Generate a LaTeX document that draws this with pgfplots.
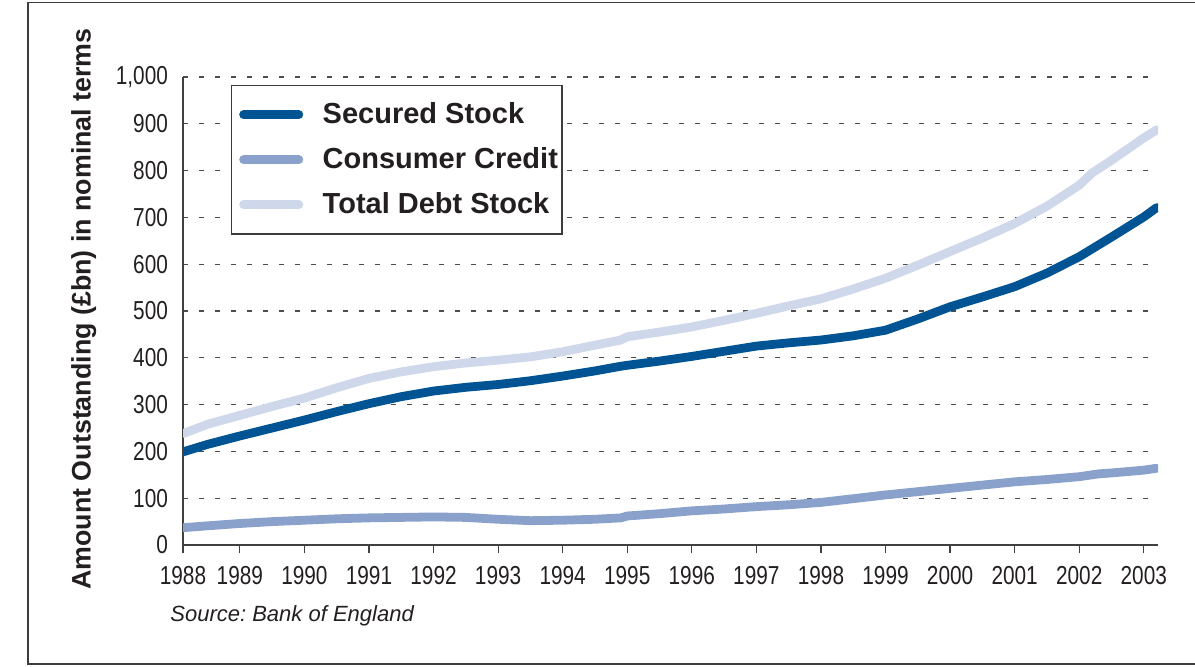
\documentclass[border=0pt]{standalone}
\usepackage{fontspec}
\setmainfont{Liberation Sans}
\newfontfamily\condfont[FakeStretch=0.8]{Liberation Sans}
\usepackage{pgfplots}
\pgfplotsset{compat=1.18}
\definecolor{secured}{RGB}{0,84,147}
\definecolor{consumer}{RGB}{138,162,203}
\definecolor{totaldebt}{RGB}{207,216,234}
\definecolor{framegray}{RGB}{60,60,60}
\definecolor{txt}{RGB}{35,31,32}

\begin{document}
\frenchspacing
\begin{tikzpicture}
\useasboundingbox (0pt,0pt) rectangle (597.5pt,-333pt);
\draw[framegray, line width=0.75pt] (14pt,-1.2pt) rectangle (610pt,-332pt);
\begin{axis}[
  at={(91.5pt,-272.5pt)}, anchor=south west,
  scale only axis, width=487.5pt, height=234pt,
  xmin=1988.12, xmax=2003.22, ymin=0, ymax=1000,
  axis lines*=left,
  axis line style={black!75, line width=0.75pt},
  xtick={1988.12,1989,1990,1991,1992,1993,1994,1995,1996,1997,1998,1999,2000,2001,2002,2003},
  xticklabels={1988,1989,1990,1991,1992,1993,1994,1995,1996,1997,1998,1999,2000,2001,2002,2003},
  ytick={0,100,200,300,400,500,600,700,800,900,1000},
  yticklabels={0,100,200,300,400,500,600,700,800,900,{1,000}},
  tick align=outside, major tick length=4pt,
  x tick style={black!75, line width=0.6pt},
  y tick style={draw=none},
  ymajorgrids,
  grid style={black!70, line width=0.6pt, dash pattern=on 2.5pt off 5.5pt},
  ticklabel style={font=\condfont\fontsize{13}{15}\selectfont, text=txt},
  xticklabel style={yshift=-3pt},
  legend style={at={(axis description cs:0.0492,0.983)}, anchor=north west,
    draw=framegray, line width=0.75pt, fill=white,
    font=\bfseries\fontsize{14.5}{16}\selectfont, text=txt,
    row sep=6.5pt, inner xsep=0pt, inner ysep=6.5pt,
    nodes={inner xsep=2pt}},
  legend cell align=left,
  legend image code/.code={\path[draw=none] (0pt,0pt) -- (43.5pt,0pt);
    \draw[#1, line width=4.5pt, line cap=round] (6pt,0pt) -- (33.5pt,0pt);},
  every axis plot/.append style={line width=4.4pt, line cap=round, line join=round},
]
\addplot[secured] coordinates {
(1988.12,199) (1988.5,215) (1989,233) (1989.5,250) (1990,267) (1990.5,285)
(1991,302) (1991.5,317) (1992,329) (1992.5,337) (1993,343) (1993.5,351)
(1994,361) (1994.5,372) (1994.9,382) (1995,384) (1995.5,393) (1996,403)
(1996.5,414) (1997,425) (1997.5,432) (1998,438) (1998.5,447) (1999,459)
(1999.5,483) (2000,509) (2000.5,530) (2001,552) (2001.5,581) (2002,616)
(2002.5,658) (2003,701) (2003.2,721)};
\addlegendentry{Secured Stock}
\addplot[consumer] coordinates {
(1988.12,37) (1988.5,41) (1989,46) (1989.5,50) (1990,53) (1990.5,56)
(1991,58) (1991.5,59) (1992,60) (1992.5,59) (1993,55) (1993.5,52)
(1994,53) (1994.5,55) (1994.9,58) (1995,62) (1995.5,67) (1996,73)
(1996.5,77) (1997,82) (1997.5,86) (1998,91) (1998.5,99) (1999,107)
(1999.5,114) (2000,121) (2000.5,128) (2001,135) (2001.5,140) (2002,146)
(2002.3,152) (2002.5,154) (2003,160) (2003.2,164)};
\addlegendentry{Consumer Credit}
\addplot[totaldebt] coordinates {
(1988.12,238) (1988.5,258) (1989,277) (1989.5,296) (1990,314) (1990.5,336)
(1991,356) (1991.5,370) (1992,381) (1992.5,389) (1993,395) (1993.5,402)
(1994,413) (1994.5,427) (1994.9,438) (1995,445) (1995.5,455) (1996,466)
(1996.5,480) (1997,495) (1997.5,511) (1998,526) (1998.5,547) (1999,570)
(1999.5,598) (2000,627) (2000.5,656) (2001,687) (2001.5,724) (2002,769)
(2002.2,795) (2002.5,822) (2003,870) (2003.2,887)};
\addlegendentry{Total Debt Stock}
\end{axis}
\node[rotate=90, anchor=base, font=\bfseries\fontsize{13.4}{15}\selectfont, text=txt]
  at (45.3pt,-154.5pt) {Amount Outstanding (£bn) in nominal terms};
\node[anchor=base west, inner sep=0pt, font=\itshape\fontsize{11}{13}\selectfont, text=txt]
  at (85pt,-310.8pt) {Source: Bank of England};
\end{tikzpicture}
\end{document}
